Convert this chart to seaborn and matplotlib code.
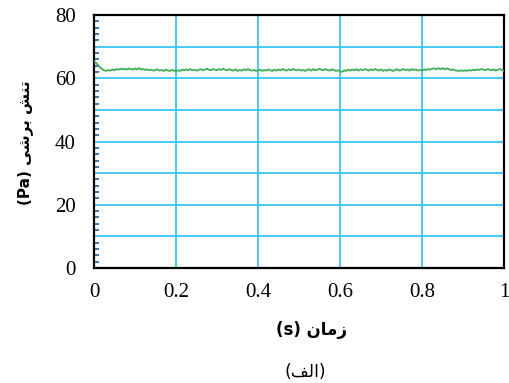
import numpy as np
import pandas as pd
import matplotlib
matplotlib.use("Agg")
import matplotlib.pyplot as plt
from matplotlib.ticker import MultipleLocator, FuncFormatter
import seaborn as sns

# Shear stress (Pa) sampled every 0.005 s over one second
time_step = 0.005
shear_stress = [
    65.4, 64.9, 64.1, 63.4, 62.9, 62.5, 62.3, 62.6, 62.4, 62.8, 62.5, 62.9, 62.7, 63.0, 62.8, 63.0, 62.7, 63.1, 62.9, 62.7,
    63.1, 62.8, 63.2, 62.7, 62.9, 62.6, 62.8, 62.5, 62.7, 62.4, 62.6, 62.8, 62.4, 62.6, 62.3, 62.7, 62.5, 62.3, 62.6, 62.4,
    62.2, 62.5, 62.3, 62.7, 62.5, 62.8, 62.5, 62.9, 62.5, 62.7, 62.4, 62.6, 62.9, 62.5, 62.7, 63.0, 62.7, 62.5, 62.9, 62.7,
    62.5, 62.9, 62.6, 63.0, 62.7, 62.5, 62.9, 62.5, 62.4, 62.8, 62.3, 62.6, 62.4, 62.8, 62.5, 62.9, 62.6, 62.4, 62.6, 62.3,
    62.5, 62.7, 62.3, 62.6, 62.4, 62.8, 62.5, 62.3, 62.7, 62.4, 62.8, 62.5, 62.9, 62.6, 62.4, 62.8, 62.5, 62.9, 62.7, 62.5,
    62.8, 62.4, 62.6, 62.3, 62.7, 62.8, 62.4, 62.9, 62.5, 62.7, 63.0, 62.7, 62.5, 62.9, 62.6, 62.4, 62.8, 62.6, 62.3, 62.5,
    62.2, 62.0, 62.5, 62.3, 62.7, 62.4, 62.8, 62.5, 62.9, 62.4, 62.8, 62.5, 62.9, 62.7, 62.4, 62.8, 62.5, 62.9, 62.7, 62.4,
    62.8, 62.3, 62.6, 62.4, 62.8, 62.5, 62.3, 62.7, 62.8, 62.4, 62.6, 62.9, 62.5, 62.8, 62.4, 62.9, 62.6, 62.8, 62.4, 62.6,
    62.5, 62.8, 62.6, 62.9, 62.7, 63.0, 63.1, 62.8, 63.2, 62.9, 63.2, 62.8, 63.1, 62.9, 62.6, 62.8, 62.5, 62.4, 62.3, 62.5,
    62.3, 62.5, 62.3, 62.6, 62.4, 62.7, 62.5, 62.8, 62.6, 62.9, 62.7, 62.5, 62.9, 62.7, 62.5, 62.8, 62.4, 62.7, 62.9, 62.6,
    62.3,
]
time_s = np.arange(len(shear_stress)) * time_step

x_ticks = [0, 0.2, 0.4, 0.6, 0.8, 1]
x_tick_labels = ["0", "0.2", "0.4", "0.6", "0.8", "1"]

# Persian labels written with Arabic presentation forms in visual order
y_label = "(Pa) \uFEF0\uFEB7\uFEAE\uFE91 \uFEB6\uFEE8\uFE97"   # تنش برشی (Pa)
x_label = "(s) \uFEE5\uFE8E\uFEE3\uFEAF"                        # زمان (s)
caption = "(\uFED2\uFEDF\uFE8D)"                                # (الف)

df = pd.DataFrame({"time": time_s, "stress": shear_stress})

sns.set_style("white")
plt.rcParams["font.family"] = ["Liberation Serif", "DejaVu Sans"]
plt.rcParams["text.color"] = "black"

fig = plt.figure(figsize=(5.09, 3.83), dpi=100)
ax = fig.add_axes([0.1847, 0.300, 0.8055, 0.661])

grid_color = "#36c6f4"
sns.lineplot(data=df, x="time", y="stress", ax=ax, color="#3fae55", linewidth=1.3, zorder=3)

ax.set_xlim(0, 1)
ax.set_ylim(0, 80)
ax.set_xticks(x_ticks)
ax.set_xticklabels(x_tick_labels)
ax.yaxis.set_major_locator(MultipleLocator(10))
ax.yaxis.set_major_formatter(FuncFormatter(lambda v, p: f"{v:.0f}" if v % 20 == 0 else ""))
ax.yaxis.set_minor_locator(MultipleLocator(2))

ax.grid(True, which="major", color=grid_color, linewidth=1.3, zorder=1)
ax.set_axisbelow(True)

ax.tick_params(axis="both", which="major", length=0, labelsize=15, colors="black")
ax.tick_params(axis="y", which="major", pad=13)
ax.tick_params(axis="x", which="major", pad=11)
ax.tick_params(axis="y", which="minor", left=True, direction="in", length=3.5,
               width=1.2, color="#1c5fae")
ax.tick_params(axis="x", which="minor", bottom=False)

for spine in ax.spines.values():
    spine.set_visible(True)
    spine.set_color("black")
    spine.set_linewidth(1.6)

ax.set_xlabel("")
ax.set_ylabel("")

fig.text(311 / 509, 1 - 330 / 383, x_label, ha="center", va="center",
         fontsize=12, fontweight="bold", family=["DejaVu Sans"], color="black")
fig.text(25 / 509, 1 - 143 / 383, y_label, ha="center", va="center", rotation=90,
         fontsize=11, fontweight="bold", family=["DejaVu Sans"], color="black")
fig.text(305 / 509, 1 - 372 / 383, caption, ha="center", va="center",
         fontsize=12.5, family=["DejaVu Sans"], color="black")

fig.savefig("out.png", dpi=100)
